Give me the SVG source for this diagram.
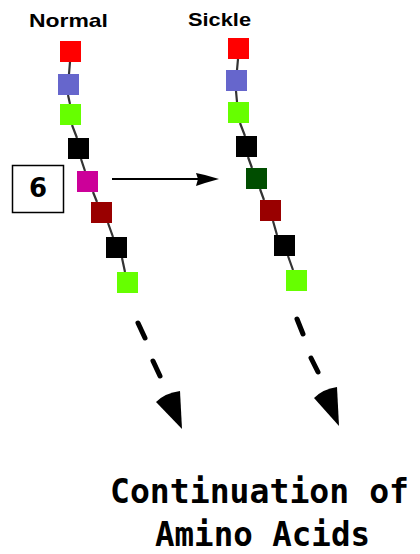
<svg xmlns="http://www.w3.org/2000/svg" width="420" height="554" viewBox="0 0 420 554">
<defs>
<style>
.lbl{font-family:"Liberation Sans",Arial,sans-serif;font-weight:bold;font-size:19px;fill:#000}
.big{font-family:"DejaVu Sans Mono","Liberation Mono",monospace;font-weight:bold;font-size:33px;fill:#000}
.link{stroke:#333;stroke-width:2.2;fill:none}
.dash{stroke:#000;stroke-width:5;stroke-linecap:round;fill:none}
.red{fill:#ff0000}.blue{fill:#6666cc}.grn{fill:#66ff00}.blk{fill:#000}.mag{fill:#cc0099}.drd{fill:#990000}.dgr{fill:#004d00}
</style>
</defs>
<rect width="420" height="554" fill="#fff"/>
<text class="lbl" x="29" y="27" textLength="79" lengthAdjust="spacingAndGlyphs">Normal</text>
<text class="lbl" x="188" y="26" textLength="63" lengthAdjust="spacingAndGlyphs">Sickle</text>

<g id="connectors">
<path class="link" d="M70,62 L69,74 M68,95 L70,104 M72,125 L77,138 M81,159 L85,171 M93,192 L97,202 M108,223 L113,237 M122,258 L125,272"/>
<path class="link" d="M238,59 L237,70 M236,91 L237,102 M240,123 L245,136 M248,157 L252,168 M260,189 L264,200 M273,221 L277,235 M288,256 L293,270"/>
<line x1="112" y1="179" x2="200" y2="179" stroke="#000" stroke-width="2"/>
<polygon points="196,173 205,175 219,179 205,183 196,186 198,179" fill="#000"/>
<line class="dash" x1="138" y1="323" x2="145" y2="338"/>
<line class="dash" x1="153" y1="361" x2="160" y2="376"/>
<path d="M156,402 Q165,393 180,391 L182,429 Z" fill="#000"/>
<line class="dash" x1="297" y1="319" x2="303" y2="334"/>
<line class="dash" x1="311" y1="358" x2="318" y2="372"/>
<path d="M314,398 Q323,389 337,387 L339,426 Z" fill="#000"/>
</g>

<g id="normal-chain">
<rect id="n1" class="red" x="60" y="41" width="21" height="21"/>
<rect id="n2" class="blue" x="58" y="74" width="21" height="21"/>
<rect id="n3" class="grn" x="60" y="104" width="21" height="21"/>
<rect id="n4" class="blk" x="68" y="138" width="21" height="21"/>
<rect id="n5" class="mag" x="77" y="171" width="21" height="21"/>
<rect id="n6" class="drd" x="91" y="202" width="21" height="21"/>
<rect id="n7" class="blk" x="106" y="237" width="21" height="21"/>
<rect id="n8" class="grn" x="117" y="272" width="21" height="21"/>
</g>

<g id="sickle-chain">
<rect id="s1" class="red" x="228" y="38" width="21" height="21"/>
<rect id="s2" class="blue" x="226" y="70" width="21" height="21"/>
<rect id="s3" class="grn" x="228" y="102" width="21" height="21"/>
<rect id="s4" class="blk" x="236" y="136" width="21" height="21"/>
<rect id="s5" class="dgr" x="246" y="168" width="21" height="21"/>
<rect id="s6" class="drd" x="260" y="200" width="21" height="21"/>
<rect id="s7" class="blk" x="274" y="235" width="21" height="21"/>
<rect id="s8" class="grn" x="286" y="270" width="21" height="21"/>
</g>

<g id="box6">
<rect x="12.5" y="165.5" width="51" height="47" fill="#fff" stroke="#000" stroke-width="1.5"/>
<text x="38" y="197" text-anchor="middle" font-family="DejaVu Sans,sans-serif" font-weight="bold" font-size="26">6</text>
</g>

<g id="caption">
<text class="big" x="110" y="503" textLength="299" lengthAdjust="spacingAndGlyphs">Continuation of</text>
<text class="big" x="155" y="546" textLength="215" lengthAdjust="spacingAndGlyphs">Amino Acids</text>
</g>
</svg>
